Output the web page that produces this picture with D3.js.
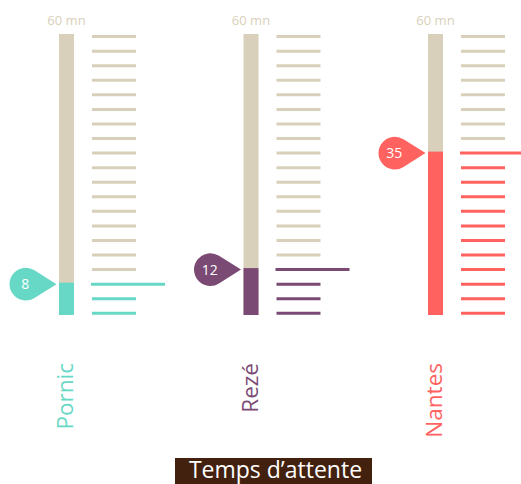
<!DOCTYPE html>
<html>
<head>
<meta charset="utf-8">
<script src="https://cdn.jsdelivr.net/npm/d3@7"></script>
<style>
  body { margin: 0; background: #fff; }
  text { font-family: "Open Sans", sans-serif; }
</style>
</head>
<body>
<div id="vis"></div>
<script>
// data
var cities = ["Pornic", "Rezé", "Nantes"];
var waits = [8, 12, 35];
var colors = ["#68d8c6", "#7b4a74", "#ff625f"];
var maxWait = 60;
var maxLabel = "60 mn";
var title = "Temps d’attente";

var width = 521, height = 484;
var tan = "#d8d0ba";

var svg = d3.select("#vis").append("svg")
    .attr("width", width)
    .attr("height", height);

// one column per city (x is the bar center)
var x = d3.scalePoint().domain(cities).range([66.5, 435.5]);

// 20 graduations spread from 0 to 60
var nTicks = 20;
var tickVals = d3.range(nTicks).map(function(i) { return i * maxWait / (nTicks - 1); });
var y = d3.scaleLinear().domain([0, maxWait]).range([313.3, 36.6]);

var barW = 15, barTop = 34, barBottom = 315;

// teardrop marker, tip pointing right
function drop(tx, ty) {
  var r = 16.3, d = 30.7;
  var cx = tx - d;
  var phi = Math.acos(r / d);
  var ux = cx + r * Math.cos(phi), uy = ty - r * Math.sin(phi);
  var lx = ux, ly = ty + r * Math.sin(phi);
  return "M" + tx + "," + ty + "L" + ux + "," + uy +
    "A" + r + "," + r + " 0 1 0 " + lx + "," + ly + "Z";
}

cities.forEach(function(city, i) {
  var cx = x(city);
  var left = cx - barW / 2;
  var col = colors[i];
  var v = waits[i];
  // highlighted graduation = last one under the value
  var idx = d3.bisectRight(tickVals, v) - 1;
  var yv = y(tickVals[idx]);

  var g = svg.append("g").attr("class", "gauge");

  g.append("text")
    .attr("x", cx)
    .attr("y", 25)
    .attr("text-anchor", "middle")
    .style("font-size", "13px")
    .style("fill", tan)
    .text(maxLabel);

  // background bar
  g.append("rect")
    .attr("x", left).attr("y", barTop)
    .attr("width", barW).attr("height", barBottom - barTop)
    .attr("fill", tan);

  // filled part
  g.append("rect")
    .attr("x", left).attr("y", yv - 1.5)
    .attr("width", barW).attr("height", barBottom - yv + 1.5)
    .attr("fill", col);

  // graduations
  g.selectAll(".grad")
    .data(tickVals)
    .enter().append("line")
    .attr("class", "grad")
    .attr("x1", function(d, k) { return left + (k == idx ? 32 : 33); })
    .attr("x2", function(d, k) { return left + (k == idx ? 106 : 77); })
    .attr("y1", function(d) { return y(d); })
    .attr("y2", function(d) { return y(d); })
    .attr("stroke", function(d, k) { return k <= idx ? col : tan; })
    .attr("stroke-width", 3);

  // marker
  g.append("path")
    .attr("d", drop(left - 2.5, yv))
    .attr("fill", col);

  g.append("text")
    .attr("x", left - 2.5 - 30.7 - 0.5)
    .attr("y", yv)
    .attr("dy", "0.36em")
    .attr("text-anchor", "middle")
    .style("font-size", "14px")
    .style("fill", "#fff")
    .text(v);

  // city name
  g.append("text")
    .attr("transform", "translate(" + (left + barW - 1) + ",363) rotate(-90)")
    .attr("text-anchor", "end")
    .style("font-size", "22.5px")
    .style("fill", col)
    .text(city);
});

// title
svg.append("rect")
  .attr("x", 175).attr("y", 458)
  .attr("width", 197).attr("height", 30)
  .attr("fill", "#43210f");

svg.append("text")
  .attr("x", 275.5)
  .attr("y", 478)
  .attr("text-anchor", "middle")
  .style("font-size", "23px")
  .style("fill", "#fff")
  .text(title);
</script>
</body>
</html>
